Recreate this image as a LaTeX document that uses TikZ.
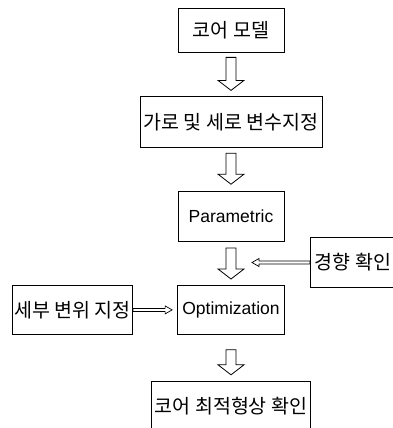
\documentclass[tikz,border=0pt]{standalone}
\usepackage{fontspec}
\setmainfont{Liberation Sans}
\newfontfamily\krfont{Noto Sans CJK KR}
\usetikzlibrary{calc,positioning}

\begin{document}
\begin{tikzpicture}[x=1pt, y=1pt, node distance=44pt,
		box/.style={draw, line width=0.8pt, inner sep=2pt, align=center,
			font=\fontsize{17.5}{20}\selectfont},
		krbox/.style={box, font=\krfont\fontsize{19.5}{22}\selectfont},
		bigarrow/.style={line width=0.8pt, to path={let \p1=(\tikztostart), \p2=(\tikztotarget) in
			(\x1-5pt,\y1) -- (\x1-5pt,\y2+10pt) -- (\x1-13pt,\y2+10pt) -- (\x1,\y2)
			-- (\x1+13pt,\y2+10pt) -- (\x1+5pt,\y2+10pt) -- (\x1+5pt,\y1) -- cycle}},
		thinarrow/.style={line width=0.7pt, to path={let \p1=(\tikztostart), \p2=(\tikztotarget),
			\n1={ifthenelse(\x2>\x1,1,-1)} in
			(\x1,\y1-1.5pt) -- (\x2-\n1*7pt,\y1-1.5pt) -- (\x2-\n1*7pt,\y1-4pt) -- (\x2,\y1)
			-- (\x2-\n1*7pt,\y1+4pt) -- (\x2-\n1*7pt,\y1+1.5pt) -- (\x1,\y1+1.5pt) -- cycle}}]
		\useasboundingbox (0,0) rectangle (393,-428);
		% Nodes
		\node (core) [krbox, minimum width=106pt, minimum height=44pt] at (231,-30) {코어 모델};
		\node (var) [krbox, below=44pt of core, minimum width=182pt, minimum height=51pt] {가로 및 세로 변수지정};
		\node (param) [box, below=43pt of var, minimum width=106pt, minimum height=50pt] {Parametric};
		\node (opt) [box, below=43pt of param, minimum width=107pt, minimum height=49pt] {Optimization};
		\node (final) [krbox, below=46pt of opt, minimum width=159pt, minimum height=49pt] {코어 최적형상 확인};
		\node (detail) [krbox, left=of opt, minimum width=119pt, minimum height=49pt] {세부 변위 지정};
		\node (trend) [krbox, minimum width=85pt, minimum height=50pt, anchor=west] at (310,-262.5) {경향 확인};
		\coordinate (tip) at ([xshift=21pt]param.south |- trend.west);
		% Edges
		\draw[bigarrow] ([yshift=-5pt]core.south) to ([yshift=6pt]var.north);
		\draw[bigarrow] ([yshift=-5pt]var.south) to ([yshift=7pt]param.north);
		\draw[bigarrow] ([yshift=-6pt]param.south) to ([yshift=6pt]opt.north);
		\draw[bigarrow] ([yshift=-15pt]opt.south) to ([yshift=6pt]final.north);
		\draw[thinarrow] (trend.west) to (tip);
		\draw[thinarrow] (detail.east) to ([xshift=-5pt]opt.west);
	\end{tikzpicture}
\end{document}
